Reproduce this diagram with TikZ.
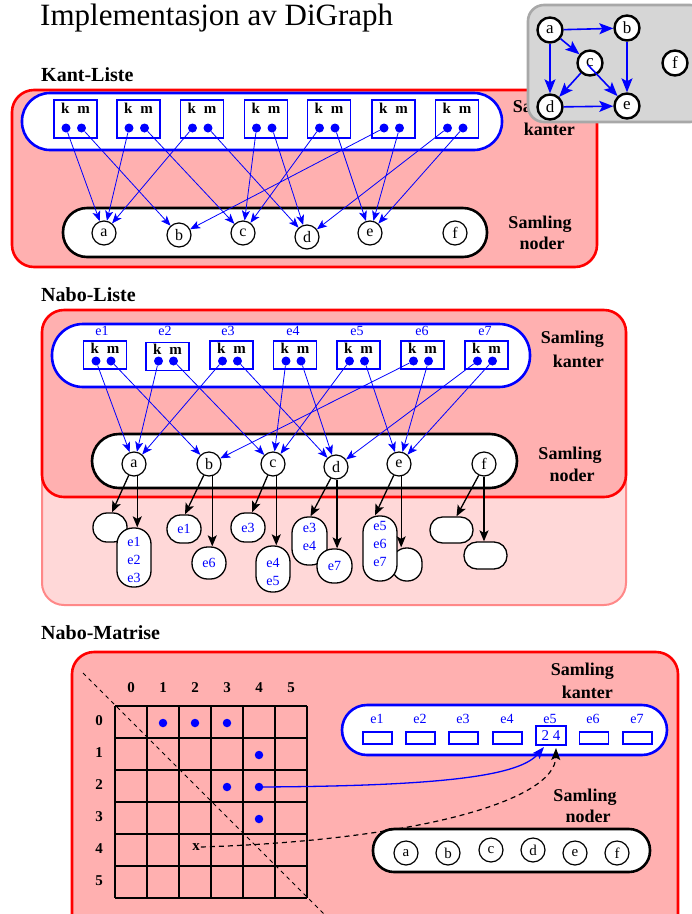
\documentclass[tikz,border=0pt]{standalone}
\usepackage{fontspec}
\setmainfont{Liberation Serif}
\usetikzlibrary{arrows.meta}
\newcommand\myfs[2]{\fontsize{#1}{#2}\selectfont}
\definecolor{panelred}{HTML}{FFB0B0}
\definecolor{panelpink}{HTML}{FFD8D8}
\definecolor{pinkline}{HTML}{FF8888}
\definecolor{graybox}{HTML}{D6D6D6}
\definecolor{grayline}{HTML}{A8A8A8}
\begin{document}
\begin{tikzpicture}[x=1pt,y=-1pt,
  titletext/.style={anchor=base west, inner sep=0, font=\myfs{31}{31}},
  headtext/.style={anchor=base west, inner sep=0, font=\bfseries\myfs{20}{20}},
  labtext/.style={inner sep=0, font=\bfseries\myfs{18}{18}},
  redpanel/.style={draw=red, line width=2.6pt, fill=panelred, rounded corners=22pt},
  bluepanel/.style={draw=blue, line width=2.6pt, fill=white},
  blackpanel/.style={draw=black, line width=2.6pt, fill=white},
  gnode/.style={circle, draw, line width=2.4pt, fill=white, minimum size=25pt, inner sep=0, font=\myfs{17}{17}},
  vnode/.style={circle, draw, line width=1.2pt, fill=white, minimum size=24pt, inner sep=0, font=\myfs{16}{16}},
  mnode/.style={circle, draw, line width=1.2pt, fill=white, minimum size=24pt, inner sep=0, font=\myfs{15}{15}},
  kmbox/.style={draw=blue, line width=1.6pt, fill=white, minimum width=43pt, inner sep=0},
  kmtext/.style={anchor=base, inner sep=0, font=\bfseries\myfs{15}{15}},
  bdot/.style={circle, fill=blue, minimum size=9pt, inner sep=0},
  etext/.style={anchor=base, inner sep=0, text=blue, font=\myfs{14}{14}},
  listtext/.style={inner sep=0, text=blue, align=center, font=\myfs{14}{18}},
  lbox/.style={draw, line width=1.3pt, fill=white, inner sep=0},
  barrow/.style={blue, line width=0.8pt, -{Stealth[length=10pt,width=8pt,inset=2.5pt]}},
  garrow/.style={blue, line width=1.6pt, -{Stealth[length=14pt,width=11pt,inset=3pt]}},
  karrow/.style={black, line width=1.3pt, -{Stealth[length=11pt,width=9pt,inset=2.5pt]}},
  mlab/.style={inner sep=0, font=\bfseries\myfs{15}{15}},
  erect/.style={draw=blue, line width=1.3pt, fill=white, minimum width=29pt, minimum height=12pt, inner sep=0}
]
\useasboundingbox (0,0) rectangle (692,914);

% ---------- title ----------
\node[titletext] (title) at (40,25) {Implementasjon av DiGraph};

% ================= Kant-Liste =================
\node[headtext] (hkant) at (41,81) {Kant-Liste};
\draw[redpanel] (12,90) rectangle (597,267);
\draw[bluepanel, rounded corners=28pt] (22,93) rectangle (502,150);
\draw[blackpanel, rounded corners=24pt] (63,208) rectangle (487,257);

\node[labtext, anchor=base east] (kks) at (576,112) {Samling};
\node[labtext, anchor=base east] (kkk) at (575,135) {kanter};
\node[labtext, anchor=base] (kns) at (540,228) {Samling};
\node[labtext, anchor=base] (knn) at (542,249) {noder};

\foreach \i/\x in {1/75.5,2/138.5,3/202,4/266,5/329,6/393.5,7/457}{
  \node[kmbox, minimum height=38pt] (KB\i) at (\x,119) {};
  \node[kmtext] (KT\i) at (\x,113) {k\hspace{8pt}m};
  \node[bdot] (Kk\i) at (\x-9.5,128) {};
  \node[bdot] (Km\i) at (\x+6,128) {};
}

\node[vnode] (Ka) at (104,233) {a};
\node[vnode] (Kb) at (179,235) {b};
\node[vnode] (Kc) at (243,233) {c};
\node[vnode] (Kd) at (307,237) {d};
\node[vnode] (Ke) at (370,233) {e};
\node[vnode] (Kf) at (455,233) {f};

\foreach \i/\f/\t in {1/a/b,2/a/c,3/a/d,4/c/d,5/c/e,6/b/e,7/d/e}{
  \draw[barrow] (Kk\i) -- (K\f);
  \draw[barrow] (Km\i) -- (K\t);
}

% ---------- the example graph ----------
\draw[draw=grayline, line width=2.6pt, fill=graybox, rounded corners=16pt] (528,5) rectangle (706,122);
\node[gnode] (Ga) at (550,30) {a};
\node[gnode] (Gb) at (627,28) {b};
\node[gnode] (Gc) at (590,63) {c};
\node[gnode] (Gd) at (550,107) {d};
\node[gnode] (Ge) at (627,106) {e};
\node[gnode] (Gf) at (675,63) {f};
\draw[garrow] (Ga) -- (Gb);
\draw[garrow] (Ga) -- (Gc);
\draw[garrow] (Ga) -- (Gd);
\draw[garrow] (Gb) -- (Ge);
\draw[garrow] (Gc) -- (Gd);
\draw[garrow] ([xshift=-2pt,yshift=-2pt]Gc.center) -- (Ge);
\draw[garrow] (Gd) -- (Ge);

% ================= Nabo-Liste =================
\node[headtext] (hnabo) at (41,301) {Nabo-Liste};
\draw[draw=pinkline, line width=2pt, fill=panelpink, rounded corners=22pt] (42,310) rectangle (626,605);
\draw[redpanel] (42,310) rectangle (626,497);
\draw[bluepanel, rounded corners=31pt] (52,324) rectangle (530,387);
\draw[blackpanel, rounded corners=27pt] (92,434) rectangle (517,488);

\node[labtext, anchor=base east] (nks) at (604,343) {Samling};
\node[labtext, anchor=base east] (nkk) at (604,367) {kanter};
\node[labtext, anchor=base] (nns) at (570,459) {Samling};
\node[labtext, anchor=base] (nnn) at (572,481) {noder};

\foreach \i/\x/\y/\ex in {1/105/355/102,2/167.5/356.5/165,3/231.5/355/228,4/295/355/293,5/358.5/355/357,6/422.5/355/422,7/486.5/355/485}{
  \node[kmbox, minimum height=28pt] (NB\i) at (\x,\y) {};
  \node[kmtext] (NT\i) at (\x,\y-2) {k\hspace{8pt}m};
  \node[bdot] (Nk\i) at (\x-9,361) {};
  \node[bdot] (Nm\i) at (\x+6,361) {};
  \node[etext] (NE\i) at (\ex,335) {e\i};
}

\node[vnode] (Na) at (134,464) {a};
\node[vnode] (Nb) at (209,464) {b};
\node[vnode] (Nc) at (273,464) {c};
\node[vnode] (Nd) at (336,467) {d};
\node[vnode] (Ne) at (399,464) {e};
\node[vnode] (Nf) at (484,464) {f};

\foreach \i/\f/\t in {1/a/b,2/a/c,3/a/d,4/c/d,5/c/e,6/b/e,7/d/e}{
  \draw[barrow] (Nk\i) -- (N\f);
  \draw[barrow] (Nm\i) -- (N\t);
}

% adjacency lists (first and last element of each)
\node[lbox, minimum width=34pt, minimum height=29pt, rounded corners=14pt] (La1) at (110,527.5) {};
\node[lbox, minimum width=34pt, minimum height=59pt, rounded corners=16pt] (La2) at (134,557.5) {};
\node[listtext] (ta2) at (134,560) {e1\\e2\\e3};
\node[lbox, minimum width=34pt, minimum height=28pt, rounded corners=13.5pt] (Lb1) at (184,529) {};
\node[listtext] (tb1) at (184,529) {e1};
\node[lbox, minimum width=34pt, minimum height=32pt, rounded corners=15.5pt] (Lb2) at (209,563) {};
\node[listtext] (tb2) at (209,563) {e6};
\node[lbox, minimum width=34pt, minimum height=29pt, rounded corners=14pt] (Lc1) at (248,527.5) {};
\node[listtext] (tc1) at (248,527.5) {e3};
\node[lbox, minimum width=34pt, minimum height=46pt, rounded corners=16pt] (Lc2) at (273,569) {};
\node[listtext] (tc2) at (273,572) {e4\\e5};
\node[lbox, minimum width=35pt, minimum height=48pt, rounded corners=16pt] (Ld1) at (309.5,541) {};
\node[listtext] (td1) at (309.5,536.5) {e3\\e4};
\node[lbox, minimum width=35pt, minimum height=34pt, rounded corners=16pt] (Ld2) at (334.5,566) {};
\node[listtext] (td2) at (334.5,566) {e7};
\node[lbox, minimum width=30pt, minimum height=33pt, rounded corners=14.5pt] (Le2) at (407,564.5) {};
\node[lbox, minimum width=34pt, minimum height=65pt, rounded corners=16pt] (Le1) at (380,548.5) {};
\node[listtext] (te1) at (380,543.5) {e5\\e6\\e7};
\node[lbox, minimum width=43pt, minimum height=26pt, rounded corners=12.5pt] (Lf1) at (451.5,530) {};
\node[lbox, minimum width=43pt, minimum height=27pt, rounded corners=13pt] (Lf2) at (485.5,555.5) {};

\draw[karrow] (Na.245) -- ([xshift=2pt]La1.north);
\draw[karrow] (Na.285) -- (Na.285 |- La2.north);
\draw[karrow] (Nb.245) -- ([xshift=1pt]Lb1.north);
\draw[karrow] (Nb.285) -- (Nb.285 |- Lb2.north);
\draw[karrow] (Nc.245) -- ([xshift=4pt]Lc1.north);
\draw[karrow] (Nc.285) -- (Nc.285 |- Lc2.north);
\draw[karrow] (Nd.245) -- ([xshift=1pt]Ld1.north);
\draw[karrow] (Nd.275) -- (Nd.275 |- Ld2.north);
\draw[karrow] (Ne.245) -- ([xshift=-5pt]Le1.north);
\draw[karrow] (Ne.280) -- (Ne.280 |- Le2.north);
\draw[karrow] (Nf.245) -- ([xshift=5pt]Lf1.north);
\draw[karrow] (Nf.south) -- (Nf.south |- Lf2.north);

% ================= Nabo-Matrise =================
\node[headtext] (hmat) at (41,639) {Nabo-Matrise};
\draw[redpanel] (72,652) rectangle (678,940);

% adjacency matrix grid
\foreach \k in {0,...,6}{
  \draw[line width=1.2pt] (115+32*\k,706) -- (115+32*\k,898);
  \draw[line width=1.2pt] (115,706+32*\k) -- (307,706+32*\k);
}
\foreach \k in {0,...,5}{
  \node[mlab] (col\k) at (131+32*\k,688) {\k};
  \node[mlab] (row\k) at (99,721+32*\k) {\k};
}
\coordinate (dgA) at (83,673);
\coordinate (dgB) at (327,917);
\draw[line width=1pt, dash pattern=on 4pt off 4pt] (dgA) -- (dgB);

\node[inner sep=1pt, font=\bfseries\myfs{15}{15}] (xm) at (196,847) {x};

% edge collection
\draw[bluepanel, rounded corners=25pt] (342,705) rectangle (667,755);
\node[labtext, anchor=base east] (mks) at (614,675) {Samling};
\node[labtext, anchor=base east] (mkk) at (613,698) {kanter};
\foreach \i/\x in {1/377.5,2/420.5,3/463.5,4/507.5,6/594,7/637.5}{
  \node[erect] (MR\i) at (\x,738) {};
}
\node[erect, minimum width=30pt, minimum height=19pt, text=blue, font=\myfs{15}{15}] (MR5) at (551,735.5) {2 4};
\foreach \i/\x in {1/377,2/420,3/463,4/507,5/550,6/593,7/637}{
  \node[etext] (ME\i) at (\x,723) {e\i};
}

% node collection
\node[labtext, anchor=base] (mns) at (585,801) {Samling};
\node[labtext, anchor=base] (mnn) at (588,822) {noder};
\draw[blackpanel, rounded corners=21pt] (373,829) rectangle (650,872);
\node[mnode] (Ma) at (406,853) {a};
\node[mnode] (Mb) at (448,853) {b};
\node[mnode] (Mc) at (491,850) {c};
\node[mnode] (Md) at (533,850) {d};
\node[mnode] (Me) at (575,853) {e};
\node[mnode] (Mf) at (617,853) {f};

% entries of the matrix
\coordinate (twoPt) at (544,747);
\coordinate (fourPt) at (556,748);
\foreach \r/\c in {0/1,0/2,0/3,1/4,2/3,2/4,3/4}{
  \node[bdot, minimum size=8.5pt] (M\r\c) at (131+32*\c,723+32*\r) {};
}
\draw[blue, line width=1.3pt, -{Stealth[length=12pt,width=9pt,inset=2.5pt]}]
  (M24.center) .. controls (450,786) and (520,775) .. (twoPt);
\draw[black, line width=1.2pt, dash pattern=on 5pt off 4pt, -{Stealth[length=12pt,width=9pt,inset=2.5pt]}]
  (xm.east) .. controls (420,840) and (555,800) .. (fourPt);
\end{tikzpicture}
\end{document}
